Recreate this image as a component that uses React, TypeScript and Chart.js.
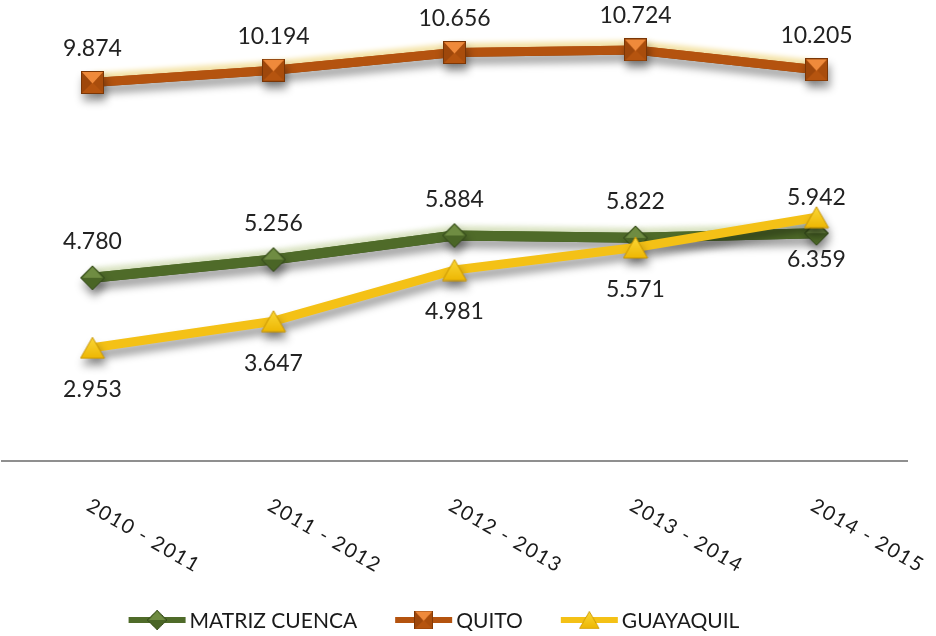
import React, { useEffect, useRef } from "react";
import { Chart, registerables } from "chart.js";

Chart.register(...registerables);

const categories = ["2010 - 2011", "2011 - 2012", "2012 - 2013", "2013 - 2014", "2014 - 2015"];
const seriesNames = ["MATRIZ CUENCA", "QUITO", "GUAYAQUIL"];
const matrizCuenca = [4780, 5256, 5884, 5822, 5942];
const quito = [9874, 10194, 10656, 10724, 10205];
const guayaquil = [2953, 3647, 4981, 5571, 6359];
const yMin = 0;
const yMax = 12000;

const FONT = "Lato, 'Open Sans', 'DejaVu Sans', sans-serif";

function fmt(v: number): string {
  const s = String(Math.round(v));
  return s.length > 3 ? s.slice(0, -3) + "." + s.slice(-3) : s;
}

function makeSquare(size: number): HTMLCanvasElement {
  const c = document.createElement("canvas");
  c.width = size;
  c.height = size;
  const g = c.getContext("2d")!;
  const s = size;
  const m = s / 2;
  g.fillStyle = "#B5540F";
  g.fillRect(0, 0, s, s);
  g.fillStyle = "#9E470B";
  g.beginPath(); g.moveTo(0, 0); g.lineTo(m, m); g.lineTo(0, s); g.closePath(); g.fill();
  g.fillStyle = "#A94D0C";
  g.beginPath(); g.moveTo(s, 0); g.lineTo(m, m); g.lineTo(s, s); g.closePath(); g.fill();
  g.fillStyle = "#EF8A3B";
  g.beginPath(); g.moveTo(1, 1); g.lineTo(s - 1, 1); g.lineTo(m, m + 1); g.closePath(); g.fill();
  g.strokeStyle = "#7A3606";
  g.lineWidth = 1;
  g.strokeRect(0.5, 0.5, s - 1, s - 1);
  return c;
}

function makeDiamond(size: number): HTMLCanvasElement {
  const c = document.createElement("canvas");
  c.width = size;
  c.height = size;
  const g = c.getContext("2d")!;
  const m = size / 2;
  g.fillStyle = "#4A6526";
  g.beginPath(); g.moveTo(m, 1); g.lineTo(size - 1, m); g.lineTo(m, size - 1); g.lineTo(1, m); g.closePath(); g.fill();
  g.fillStyle = "#6F8C42";
  g.beginPath(); g.moveTo(m, 2); g.lineTo(size - 3, m); g.lineTo(3, m); g.closePath(); g.fill();
  g.strokeStyle = "#33481A";
  g.lineWidth = 1;
  g.beginPath(); g.moveTo(m, 1); g.lineTo(size - 1, m); g.lineTo(m, size - 1); g.lineTo(1, m); g.closePath(); g.stroke();
  return c;
}

function makeTriangle(w: number, h: number): HTMLCanvasElement {
  const c = document.createElement("canvas");
  c.width = w;
  c.height = h;
  const g = c.getContext("2d")!;
  const grad = g.createLinearGradient(0, 0, 0, h);
  grad.addColorStop(0, "#FBD93A");
  grad.addColorStop(1, "#EDB500");
  g.fillStyle = grad;
  g.beginPath(); g.moveTo(w / 2, 1); g.lineTo(w - 1, h - 1); g.lineTo(1, h - 1); g.closePath(); g.fill();
  g.strokeStyle = "#C99500";
  g.lineWidth = 1;
  g.stroke();
  return c;
}

export default function App() {
  const ref = useRef<HTMLCanvasElement | null>(null);

  useEffect(() => {
    let chart: Chart | null = null;
    let cancelled = false;

    const build = () => {
      if (cancelled || !ref.current) return;
      const square = makeSquare(23);
      const diamond = makeDiamond(26);
      const triangle = makeTriangle(26, 23);

      const shadowPlugin = {
        id: "lineShadows",
        beforeDatasetDraw(ch: any, args: any) {
          const ds = ch.data.datasets[args.index];
          const ctx = ch.ctx;
          if (ds.glowColor) {
            ctx.save();
            ctx.shadowColor = ds.glowColor;
            ctx.shadowBlur = 5;
            ctx.shadowOffsetX = 0;
            ctx.shadowOffsetY = -5;
            args.meta.dataset.draw(ctx, ch.chartArea);
            ctx.restore();
          }
          ctx.save();
          ctx.shadowColor = "rgba(0,0,0,0.4)";
          ctx.shadowBlur = 8;
          ctx.shadowOffsetX = 2;
          ctx.shadowOffsetY = 7;
        },
        afterDatasetDraw(ch: any) {
          ch.ctx.restore();
        },
      };

      const labelPlugin = {
        id: "valueLabels",
        afterDatasetsDraw(ch: any) {
          const ctx = ch.ctx;
          ctx.save();
          ctx.font = `23px ${FONT}`;
          ctx.fillStyle = "#222222";
          ctx.textAlign = "center";
          ctx.textBaseline = "middle";
          ch.data.datasets.forEach((ds: any, di: number) => {
            const meta = ch.getDatasetMeta(di);
            meta.data.forEach((pt: any, i: number) => {
              ctx.fillText(fmt(ds.data[i]), pt.x, pt.y + ds.labelOffset);
            });
          });
          ctx.restore();
        },
      };

      const tickPlugin = {
        id: "rotatedTicks",
        afterDraw(ch: any) {
          const ctx = ch.ctx;
          const scale = ch.scales.x;
          ctx.save();
          ctx.font = `20px ${FONT}`;
          (ctx as any).letterSpacing = "1.5px";
          ctx.fillStyle = "#1a1a1a";
          ctx.textAlign = "left";
          ctx.textBaseline = "middle";
          (ch.data.labels as string[]).forEach((lab, i) => {
            const x = scale.getPixelForTick(i);
            ctx.save();
            ctx.translate(x - 4, scale.top + 43);
            ctx.rotate((30 * Math.PI) / 180);
            ctx.fillText(lab, 0, 0);
            ctx.restore();
          });
          ctx.restore();
        },
      };

      const legendPlugin = {
        id: "customLegend",
        afterDraw(ch: any) {
          const ctx = ch.ctx;
          ctx.save();
          ctx.font = `21px ${FONT}`;
          const iconW = 57;
          const gapIcon = 4;
          const gapItem = 38;
          const items = ch.data.datasets.map((ds: any) => ({
            label: ds.label,
            color: ds.borderColor,
            img: ds.pointStyle as HTMLCanvasElement,
            w: ctx.measureText(ds.label).width,
          }));
          const total =
            items.reduce((a: number, it: any) => a + iconW + gapIcon + it.w, 0) + gapItem * (items.length - 1);
          let x = ch.width / 2 - 34 - total / 2;
          const y = 620;
          items.forEach((it: any) => {
            ctx.strokeStyle = it.color;
            ctx.lineWidth = 6;
            ctx.beginPath();
            ctx.moveTo(x, y);
            ctx.lineTo(x + iconW, y);
            ctx.stroke();
            const iw = it.img.width * 0.82;
            const ih = it.img.height * 0.82;
            ctx.drawImage(it.img, x + iconW / 2 - iw / 2, y - ih / 2, iw, ih);
            ctx.fillStyle = "#1a1a1a";
            ctx.textAlign = "left";
            ctx.textBaseline = "middle";
            ctx.fillText(it.label, x + iconW + gapIcon, y + 1);
            x += iconW + gapIcon + it.w + gapItem;
          });
          ctx.restore();
        },
      };

      chart = new Chart(ref.current, {
        type: "line",
        data: {
          labels: categories,
          datasets: [
            {
              label: seriesNames[0],
              data: matrizCuenca,
              borderColor: "#4F6B29",
              backgroundColor: "#4F6B29",
              borderWidth: 10,
              pointStyle: diamond,
              order: 1,
              labelOffset: -36,
              glowColor: "rgba(215,225,190,0.9)",
            } as any,
            {
              label: seriesNames[1],
              data: quito,
              borderColor: "#B4530F",
              backgroundColor: "#B4530F",
              borderWidth: 9,
              pointStyle: square,
              order: 2,
              labelOffset: -34,
              glowColor: "rgba(245,228,170,1)",
            } as any,
            {
              label: seriesNames[2],
              data: guayaquil,
              borderColor: "#F4C116",
              backgroundColor: "#F4C116",
              borderWidth: 9,
              pointStyle: triangle,
              order: 0,
              labelOffset: 42,
            } as any,
          ],
        },
        options: {
          responsive: false,
          animation: false,
          devicePixelRatio: 1,
          layout: { autoPadding: false, padding: { top: 1, left: 2, right: 29, bottom: 0 } },
          elements: {
            line: { tension: 0, borderCapStyle: "butt", borderJoinStyle: "round" },
            point: { radius: 1, hoverRadius: 1 },
          },
          plugins: {
            legend: { display: false },
            tooltip: { enabled: false },
          },
          scales: {
            x: {
              offset: true,
              grid: { display: false },
              border: { display: true, color: "#8f8f8f", width: 2 },
              ticks: { display: false },
              afterFit: (scale: any) => {
                scale.height = 175;
              },
            },
            y: {
              display: false,
              min: yMin,
              max: yMax,
            },
          },
        },
        plugins: [shadowPlugin, labelPlugin, tickPlugin, legendPlugin],
      });
    };

    const fonts = (document as any).fonts;
    if (fonts && fonts.load) {
      Promise.all([fonts.load(`23px Lato`), fonts.load(`20px Lato`)])
        .catch(() => null)
        .then(build);
    } else {
      build();
    }

    return () => {
      cancelled = true;
      if (chart) chart.destroy();
    };
  }, []);

  return (
    <div style={{ position: "absolute", left: 0, top: 0, width: 936, height: 636, background: "#fff" }}>
      <canvas ref={ref} width={936} height={636} style={{ display: "block" }} />
    </div>
  );
}
